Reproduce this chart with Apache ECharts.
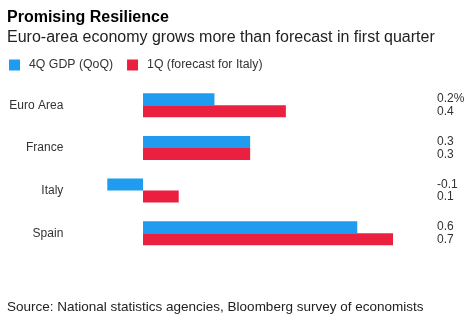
<!DOCTYPE html>
<html>
<head>
<meta charset="utf-8">
<script src="https://cdn.jsdelivr.net/npm/echarts@6/dist/echarts.min.js"></script>
<style>html,body{margin:0;padding:0;background:#fff;}#c{width:475px;height:323px;}</style>
</head>
<body>
<div id="c"></div>
<script>
var categories = ['Euro Area', 'France', 'Italy', 'Spain'];
var gdp4Q = [0.2, 0.3, -0.1, 0.6];
var gdp1Q = [0.4, 0.3, 0.1, 0.7];
var seriesNames = ['4Q GDP (QoQ)', '1Q (forecast for Italy)'];
var valueLabels = ['0.2%\n0.4', '0.3\n0.3', '-0.1\n0.1', '0.6\n0.7'];

var font = 'Liberation Sans, Arial, sans-serif';
var chart = echarts.init(document.getElementById('c'), null, {renderer: 'canvas'});
chart.setOption({
  animation: false,
  textStyle: {fontFamily: font},
  title: [
    {text: 'Promising Resilience', left: 7, top: 10, padding: 0, textStyle: {fontSize: 16, fontWeight: 'bold', color: '#000', fontFamily: font}},
    {text: 'Euro-area economy grows more than forecast in first quarter', left: 7, top: 30, padding: 0, textStyle: {fontSize: 16, fontWeight: 'normal', color: '#222', fontFamily: font}},
    {text: 'Source: National statistics agencies, Bloomberg survey of economists', left: 7, top: 300.5, padding: 0, textStyle: {fontSize: 13.5, fontWeight: 'normal', color: '#222', fontFamily: font}}
  ],
  legend: {
    left: 9, top: 59, padding: 0, itemWidth: 11, itemHeight: 11, itemGap: 14,
    icon: 'rect',
    textStyle: {fontSize: 12.3, color: '#333', fontFamily: font, padding: [0, 0, 0, 4]},
    data: seriesNames
  },
  grid: {left: 107.3, right: 475 - 393, top: 84, bottom: 323 - 254.5, containLabel: false},
  xAxis: {type: 'value', min: -0.1, max: 0.7, interval: 0.1, show: false},
  yAxis: [
    {type: 'category', data: categories, inverse: true,
     axisLine: {show: false}, axisTick: {show: false}, splitLine: {show: false},
     axisLabel: {margin: 44, fontSize: 12, color: '#333', fontFamily: font}},
    {type: 'category', data: valueLabels, inverse: true, position: 'right',
     axisLine: {show: false}, axisTick: {show: false}, splitLine: {show: false},
     axisLabel: {margin: 44, fontSize: 12, lineHeight: 12.5, color: '#333', fontFamily: font, align: 'left'}}
  ],
  series: [
    {name: seriesNames[0], type: 'bar', data: gdp4Q, barWidth: 12, barGap: '0%', itemStyle: {color: '#1f9cf0'}},
    {name: seriesNames[1], type: 'bar', data: gdp1Q, barWidth: 12, barGap: '0%', itemStyle: {color: '#eb1f40'}}
  ]
});
</script>
</body>
</html>
